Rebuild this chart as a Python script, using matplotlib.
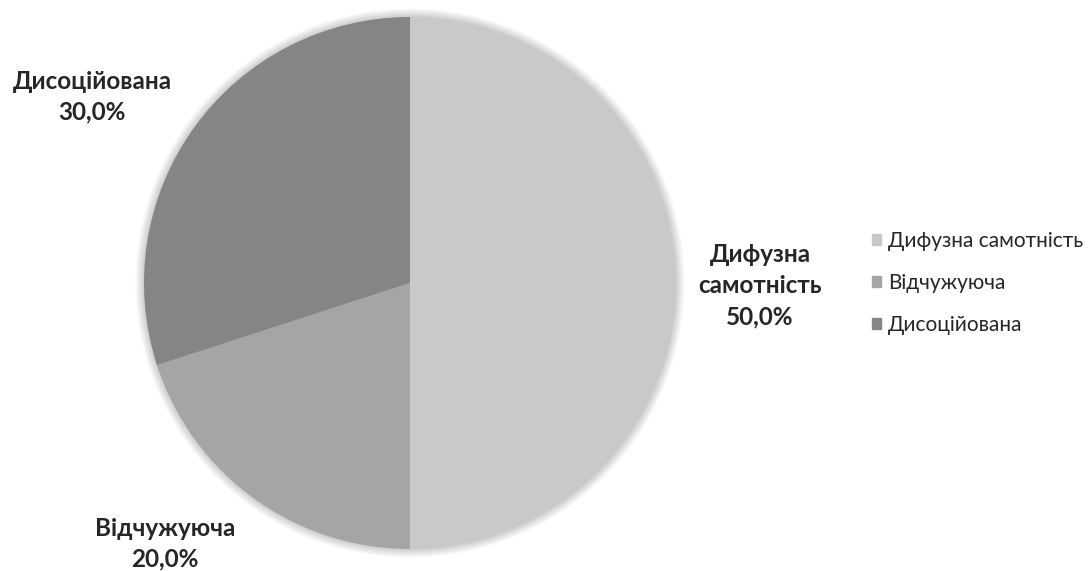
import matplotlib.pyplot as plt
from matplotlib.patches import Circle

# Types of loneliness and their shares
categories = ['Дифузна самотність', 'Відчужуюча', 'Дисоційована']
label_names = ['Дифузна\nсамотність', 'Відчужуюча', 'Дисоційована']
shares = [50.0, 20.0, 30.0]
colors = ['#c9c9c9', '#a5a5a5', '#858585']

plt.rcParams['font.family'] = ['Lato', 'DejaVu Sans']

fig = plt.figure(figsize=(10.92, 5.71), dpi=100)
W, H = 1092, 571
cx, cy, r = 410, 283, 266
ax = fig.add_axes([(cx - r) / W, (H - cy - r) / H, 2 * r / W, 2 * r / H])
ax.axis('off')

# soft halo around the pie
for k in range(8, 0, -1):
    ax.add_patch(Circle((0, 0), 1 + k * 0.004, color='black', alpha=0.025,
                        lw=0, zorder=0, clip_on=False))

wedges, _ = ax.pie(shares, colors=colors, startangle=90, counterclock=False,
                   radius=1, wedgeprops=dict(linewidth=0))
for w in wedges:
    w.set_zorder(2)

ax.set_xlim(-1, 1)
ax.set_ylim(-1, 1)
ax.set_aspect('equal')

# outside labels (data coords)
label_pos = [(1.316, -0.01), (-0.921, -0.98), (-1.195, 0.70)]
for name, val, (x, y) in zip(label_names, shares, label_pos):
    txt = '{}\n{:.1f}%'.format(name, val).replace('.', ',')
    ax.text(x, y, txt, ha='center', va='center', fontsize=17.5,
            fontweight='bold', color='#262626', linespacing=1.42,
            clip_on=False)

handles = [plt.Rectangle((0, 0), 1, 1, color=c) for c in colors]
fig.legend(handles, categories, loc='center left',
           bbox_to_anchor=(872 / W, 1 - 283 / H), frameon=False,
           borderpad=0, borderaxespad=0,
           fontsize=15, handlelength=0.45, handleheight=0.45,
           handletextpad=0.3, labelspacing=1.05, labelcolor='#262626')

fig.savefig('out.png', dpi=100, facecolor='white')
